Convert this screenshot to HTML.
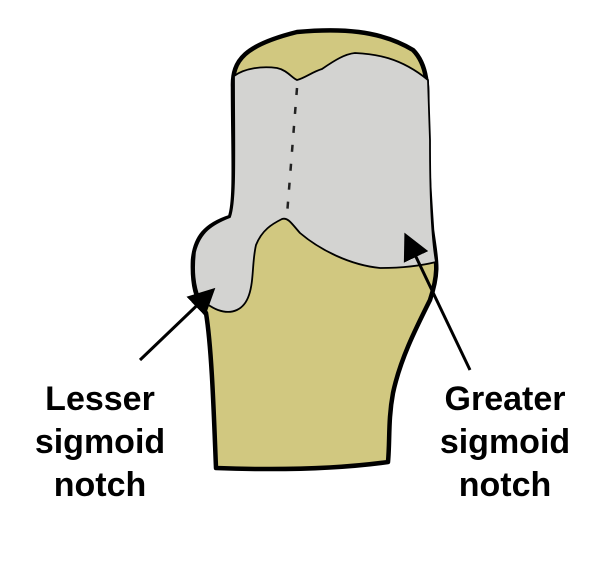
<!DOCTYPE html>
<html><head><style>
body{margin:0;background:#fff;width:611px;height:584px;overflow:hidden}
.t{position:absolute;font-family:"Liberation Sans",Arial,sans-serif;font-weight:bold;font-size:34px;line-height:43px;text-align:center;color:#000}
</style></head><body>
<svg width="611" height="584" style="position:absolute;left:0;top:0">
<defs><marker id="a" markerWidth="10" markerHeight="10" refX="7" refY="5" orient="auto" markerUnits="strokeWidth"><path d="M0,0.5 L9,5 L0,9.5 Z" fill="#000"/></marker></defs>
<path d="M233,87 C232,60 245,45 297,32 C340,28 380,30 413,50 C428,65 428,90 427,110 C427,160 430,200 432,230 C436,260 440,270 430,300 C415,330 400,360 393,393 C388,420 390,440 388,462 C330,470 270,470 216,468 C214,420 212,350 206,313 C196,300 192,285 193,260 C195,238 205,225 230,217 C236,200 233,150 233,87 Z" fill="#d1c880" stroke="#000" stroke-width="4.5" stroke-linejoin="round"/>
<path d="M234,76 C245,68 262,66 277,68 C287,70 292,78 297,80 C305,78 312,72 322,69 C335,60 345,54 355,53 C375,54 400,57 428,80 L430,140 C430,200 432,240 436,262 C420,266 400,268 380,268 C350,265 320,250 300,233 C292,224 288,217 282,219 C272,224 262,230 256,245 C252,262 254,280 249,295 C244,310 232,315 218,310 C210,307 205,302 200,300 C194,285 193,270 195,252 C200,232 212,224 230,217 C236,200 234,150 234,76 Z" fill="#d3d3d1" stroke="#000" stroke-width="1.8" stroke-linejoin="round"/>
<path d="M297,88 L287,215" stroke="#222" stroke-width="2.5" stroke-dasharray="7,12" fill="none"/>
<line x1="140" y1="360" x2="211" y2="292" stroke="#000" stroke-width="3" marker-end="url(#a)"/>
<line x1="470" y1="370" x2="407" y2="238" stroke="#000" stroke-width="3" marker-end="url(#a)"/>
</svg>
<div class="t" style="left:10px;top:378px;width:180px">Lesser<br>sigmoid<br>notch</div>
<div class="t" style="left:410px;top:378px;width:190px">Greater<br>sigmoid<br>notch</div>
</body></html>
